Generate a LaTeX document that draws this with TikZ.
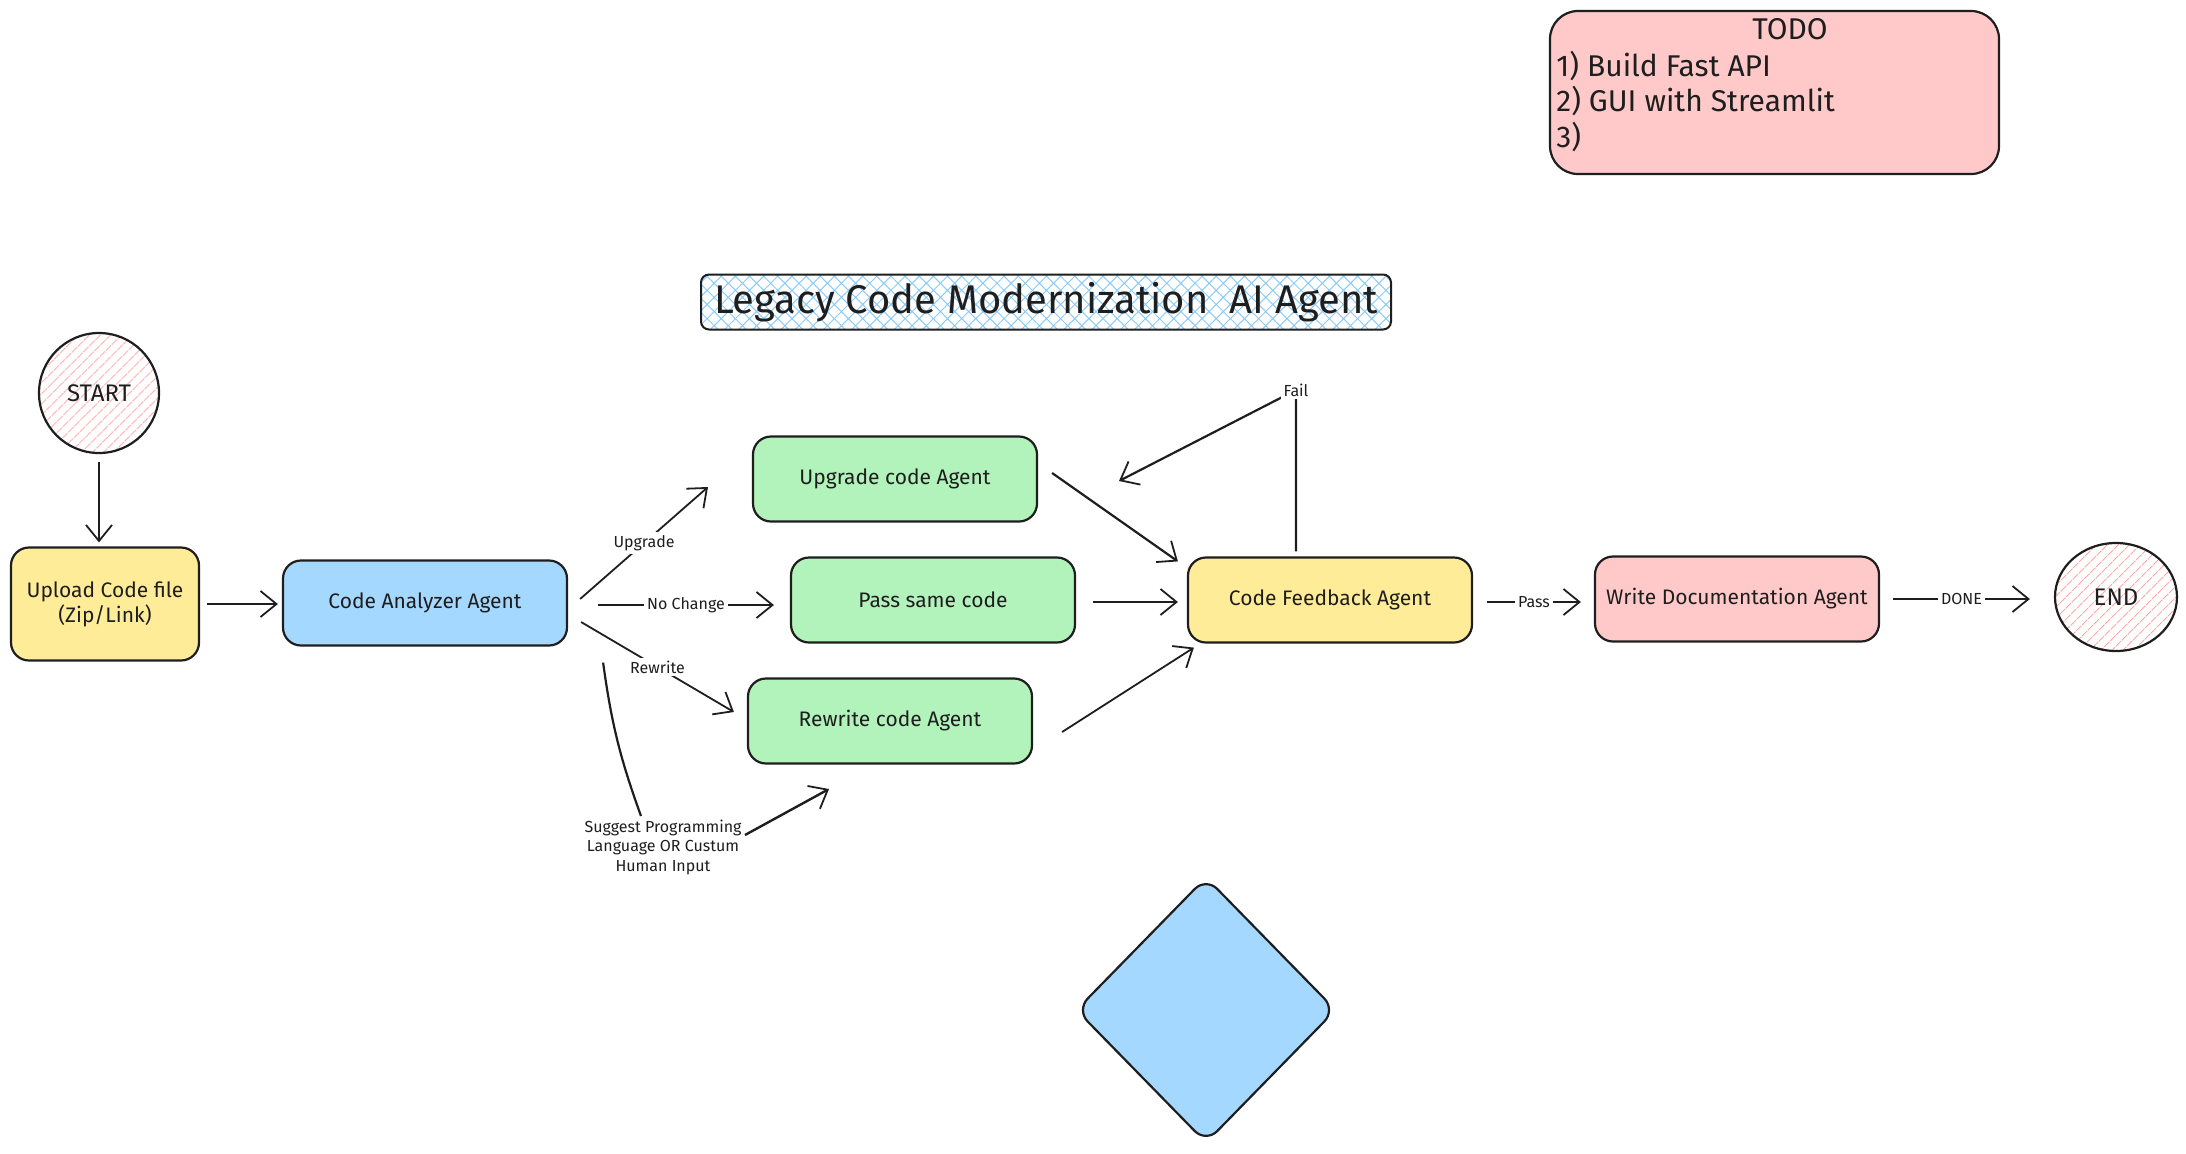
\documentclass[tikz,border=0pt]{standalone}
\usepackage{fontspec}
\setmainfont{Fira Sans}
\usetikzlibrary{arrows.meta,shapes.geometric,patterns.meta}
\definecolor{ink}{HTML}{1E1E1E}
\definecolor{cyel}{HTML}{FFEC99}
\definecolor{cblue}{HTML}{A5D8FF}
\definecolor{cgreen}{HTML}{B2F2BB}
\definecolor{cred}{HTML}{FFC9C9}
\definecolor{hatchred}{HTML}{FFA8A8}
\definecolor{hatchblue}{HTML}{8CCBF7}
\begin{document}
\begin{tikzpicture}[x=0.5pt,y=-0.5pt,
  box/.style={draw=ink, line width=1.1pt, rounded corners=9pt, minimum width=142pt, minimum height=42.5pt, inner sep=2pt, font=\fontsize{10.5}{12.5}\selectfont, align=center, text=ink},
  arr/.style={draw=ink, line width=0.9pt, -{Straight Barb[length=8pt,width=13pt,line width=0.9pt]}},
  plain/.style={draw=ink, line width=0.9pt},
  lbl/.style={fill=white, inner sep=1.5pt, font=\fontsize{8}{9.75}\selectfont, text=ink, align=center},
  todotext/.style={font=\fontsize{15}{17}\selectfont, inner sep=0pt, text=ink},
]
\useasboundingbox (0,0) rectangle (2186,1153);

% TODO box
\node[draw=ink, line width=1.1pt, rounded corners=14pt, fill=cred, minimum width=224.5pt, minimum height=81.5pt] (todo) at (1774.5,92.5) {};
\node[todotext] (todot) at (1790,29) {TODO};
\node[todotext, anchor=west] (todo1) at (1556,66) {1) Build Fast API};
\node[todotext, anchor=west] (todo2) at (1556,101) {2) GUI with Streamlit};
\node[todotext, anchor=west] (todo3) at (1556,137) {3)};

% title
\node[draw=ink, line width=1pt, rounded corners=4pt, minimum width=345pt, minimum height=27.5pt,
  pattern={Hatch[angle=45,distance=5pt,line width=0.5pt]}, pattern color=hatchblue,
  font=\fontsize{20}{23}\selectfont, text=ink] (title) at (1046,302) {Legacy Code Modernization\ \ AI Agent};

% start / end
\node[circle, draw=ink, line width=1.1pt, minimum size=60pt, inner sep=0pt,
  pattern={Lines[angle=45,distance=4pt,line width=0.5pt]}, pattern color=hatchred,
  font=\fontsize{12}{14}\selectfont, text=ink] (start) at (99,393) {START};
\node[ellipse, draw=ink, line width=1.1pt, minimum width=61pt, minimum height=54pt, inner sep=0pt,
  pattern={Lines[angle=45,distance=4pt,line width=0.5pt]}, pattern color=hatchred,
  font=\fontsize{12}{14}\selectfont, text=ink] (end) at (2116,597) {END};

% boxes
\node[box, fill=cyel, minimum width=94pt, minimum height=56.5pt] (upload) at (105,604) {Upload Code file\\(Zip/Link)};
\node[box, fill=cblue] (ana) at (425,603) {Code Analyzer Agent};
\node[box, fill=cgreen] (upg) at (895,479) {Upgrade code Agent};
\node[box, fill=cgreen] (pass) at (933,600) {Pass same code};
\node[box, fill=cgreen] (rew) at (890,721) {Rewrite code Agent};
\node[box, fill=cyel] (fb) at (1330,600) {Code Feedback Agent};
\node[box, fill=cred] (doc) at (1737,599) {Write Documentation Agent};

% diamond
\node[diamond, draw=ink, line width=1.1pt, fill=cblue, rounded corners=8pt, minimum width=130pt, minimum height=133pt, inner sep=0pt] (dia) at (1206,1010) {};

% connectors
\draw[arr, shorten <=4pt, shorten >=2pt] (start.south) -- (start.south |- upload.north);
\draw[arr] ([shift={(7,0)}]upload.east) -- ([shift={(-4,1)}]ana.west);

\coordinate (upgtip) at (708,487);
\draw[arr] ([shift={(12,-4)}]ana.east) -- node[lbl]{Upgrade} (upgtip);
\draw[arr, line width=1.2pt] ([shift={(30,2)}]ana.east) -- node[lbl]{No Change} ([shift={(-16,5)}]pass.west);
\draw[arr] ([shift={(13,19)}]ana.east) -- node[lbl]{Rewrite} ([shift={(-13,-9)}]rew.west);

\coordinate (sugtop) at (641,816);
\coordinate (sugstart) at (745,835);
\coordinate (sugend) at (829,789);
\draw[plain, line width=1.1pt] ([shift={(35,16)}]ana.south east) to[bend right=6] (sugtop);
\node[lbl, fill=none] (sug) at (663,847) {Suggest Programming\\Language OR Custum\\Human Input};
\draw[arr, line width=1.2pt] (sugstart) -- (sugend);

\draw[arr, line width=1.1pt] ([shift={(14,-6)}]upg.east) -- ([shift={(-9,5)}]fb.north west);
\draw[arr] ([shift={(17,2)}]pass.east) -- ([shift={(-9,2)}]fb.west);
\draw[arr] ([shift={(29,11)}]rew.east) -- ([shift={(7,4)}]fb.south west);

\coordinate (failc) at (1296,390);
\coordinate (failbot) at (fb.north -| failc);
\coordinate (failend) at (1119,481);
\draw[arr, line width=1.1pt] ([shift={(0,-5)}]failbot) -- (failc) -- (failend);
\node[lbl] (fail) at (failc) {Fail};

\draw[arr] ([shift={(14,2)}]fb.east) -- node[lbl]{Pass} ([shift={(-13,3)}]doc.west);
\draw[arr] ([shift={(13,0)}]doc.east) -- node[lbl]{DONE} ([shift={(-24,2)}]end.west);
\end{tikzpicture}
\end{document}
